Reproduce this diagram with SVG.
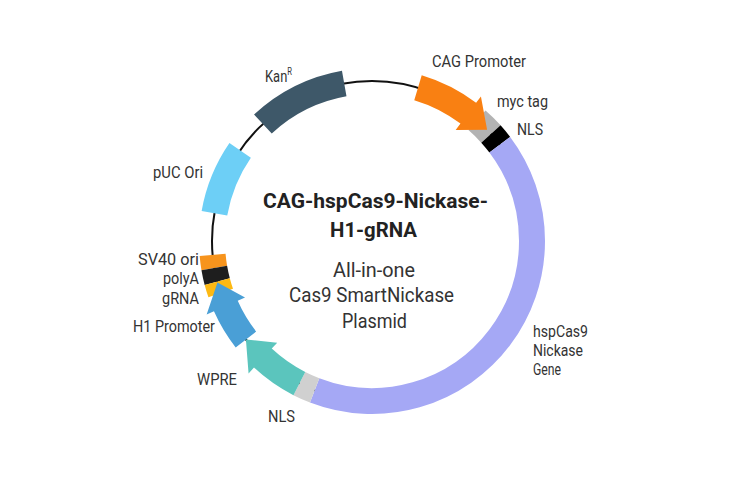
<svg xmlns="http://www.w3.org/2000/svg" width="730" height="478" viewBox="0 0 730 478">
<style>
.lbl{font-family:"Roboto","Liberation Sans",sans-serif;font-size:17px;fill:#333}
.sm{font-size:16px}
.ttl{font-family:"Roboto","Liberation Sans",sans-serif;font-size:21px;font-weight:bold;fill:#222}
.sub{font-family:"Roboto","Liberation Sans",sans-serif;font-size:20px;fill:#333}
.seg{fill:none;stroke-width:26;stroke-linecap:butt}
</style>
<rect width="730" height="478" fill="#fff"/>
<g id="backbone">
<circle cx="372" cy="241" r="160" fill="none" stroke="#111" stroke-width="2"/>
</g>
<g id="features">
<g id="kan"><path class="seg" stroke="#3E5869" d="M262.88 123.98 A160 160 0 0 1 344.22 83.43"/></g>
<g id="puc"><path class="seg" stroke="#6DCFF6" d="M214.43 213.22 A160 160 0 0 1 240.14 150.38"/></g>
<g id="sv40"><path class="seg" stroke="#F7941D" d="M214.29 267.96 A160 160 0 0 1 212.61 254.95"/></g>
<g id="polya"><path class="seg" stroke="#1E1E1E" d="M217.23 281.61 A160 160 0 0 1 214.29 267.96"/></g>
<g id="grna"><path class="seg" stroke="#FDB913" d="M220.72 293.09 A160 160 0 0 1 217.23 281.61"/></g>
<g id="myc"><path class="seg" stroke="#B3B3B3" d="M476.97 120.25 A160 160 0 0 1 490.90 133.94"/></g>
<g id="nls1"><path class="seg" stroke="#000" d="M490.90 133.94 A160 160 0 0 1 499.78 144.71"/></g>
<g id="cas9"><path class="seg" stroke="#A5A8F5" d="M499.78 144.71 A160 160 0 0 1 314.66 390.38"/></g>
<g id="nls2"><path class="seg" stroke="#D0D0D0" d="M314.66 390.38 A160 160 0 0 1 299.36 383.56"/></g>
<g id="cag"><path fill="#F98012" d="M421.72 75.30 A173 173 0 0 1 476.11 102.84 L480.93 96.45 L487.09 129.85 L455.65 129.99 L460.46 123.61 A147 147 0 0 0 414.25 100.20 Z"/></g>
<g id="wpre"><path fill="#5BC5BD" d="M293.46 395.14 A173 173 0 0 1 254.01 367.53 L248.56 373.38 L245.92 339.51 L277.20 342.66 L271.75 348.52 A147 147 0 0 0 305.26 371.98 Z"/></g>
<g id="h1"><path fill="#4A9FD6" d="M235.68 347.52 A173 173 0 0 1 213.96 311.36 L206.66 314.61 L217.46 282.41 L245.02 297.53 L237.72 300.78 A147 147 0 0 0 256.16 331.51 Z"/></g>
</g>
<g id="labels">
<text class="lbl" x="432" y="67" textLength="94" lengthAdjust="spacingAndGlyphs">CAG Promoter</text>
<text class="lbl" x="497" y="107" textLength="51" lengthAdjust="spacingAndGlyphs">myc tag</text>
<text class="lbl" x="517" y="135" textLength="26" lengthAdjust="spacingAndGlyphs">NLS</text>
<text class="lbl" x="265" y="82" textLength="27" lengthAdjust="spacingAndGlyphs">Kan<tspan dy="-7" style="font-size:10px">R</tspan></text>
<text class="lbl" x="153" y="178" textLength="50" lengthAdjust="spacingAndGlyphs">pUC Ori</text>
<text class="lbl" x="138" y="265" textLength="61" lengthAdjust="spacingAndGlyphs">SV40 ori</text>
<text class="lbl" x="163" y="284" textLength="36" lengthAdjust="spacingAndGlyphs">polyA</text>
<text class="lbl" x="162" y="304" textLength="37" lengthAdjust="spacingAndGlyphs">gRNA</text>
<text class="lbl" x="133" y="332" textLength="82" lengthAdjust="spacingAndGlyphs">H1 Promoter</text>
<text class="lbl" x="197" y="385" textLength="40" lengthAdjust="spacingAndGlyphs">WPRE</text>
<text class="lbl" x="268" y="422" textLength="27" lengthAdjust="spacingAndGlyphs">NLS</text>
<text class="lbl sm" x="533" y="337" textLength="55" lengthAdjust="spacingAndGlyphs">hspCas9</text>
<text class="lbl sm" x="533" y="356" textLength="50" lengthAdjust="spacingAndGlyphs">Nickase</text>
<text class="lbl sm" x="533" y="375" textLength="28" lengthAdjust="spacingAndGlyphs">Gene</text>
</g>
<g id="center">
<text class="ttl" x="263" y="208" textLength="225" lengthAdjust="spacingAndGlyphs">CAG-hspCas9-Nickase-</text>
<text class="ttl" x="330" y="237" textLength="87" lengthAdjust="spacingAndGlyphs">H1-gRNA</text>
<text class="sub" x="333" y="277" textLength="82" lengthAdjust="spacingAndGlyphs">All-in-one</text>
<text class="sub" x="289" y="302" textLength="165" lengthAdjust="spacingAndGlyphs">Cas9 SmartNickase</text>
<text class="sub" x="342" y="328" textLength="65" lengthAdjust="spacingAndGlyphs">Plasmid</text>
</g>
</svg>
